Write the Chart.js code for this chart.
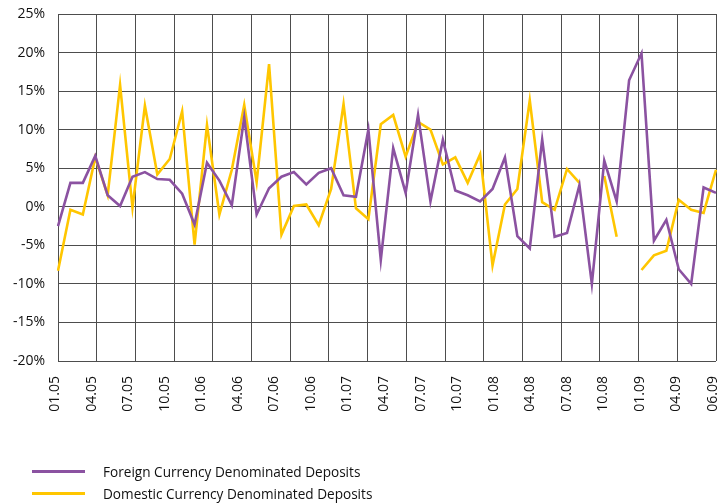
<!DOCTYPE html>
<html lang="en">
  <head>
    <meta charset="UTF-8">
    <title>Deposits growth</title>
    <script src="https://cdn.jsdelivr.net/npm/chart.js"></script>
    <style>
      body { margin: 0; background: #fff; font-family: 'Open Sans', sans-serif; }
      #wrap { position: relative; width: 718px; height: 503px; }
      #legenda { position: absolute; left: 32px; top: 461px; font-size: 13.6px; color: #111; }
      .item { display: flex; align-items: center; height: 21.5px; }
      .linha { width: 53px; height: 3px; margin-right: 18px; }
    </style>
  </head>

  <body>
    <div id="wrap">
      <canvas id="grafico" width="718" height="503"></canvas>
      <div id="legenda"></div>
    </div>

    <script>
      // month categories (one per data point)
      const months = [
        '01.05','02.05','03.05','04.05','05.05','06.05','07.05','08.05','09.05','10.05','11.05','12.05',
        '01.06','02.06','03.06','04.06','05.06','06.06','07.06','08.06','09.06','10.06','11.06','12.06',
        '01.07','02.07','03.07','04.07','05.07','06.07','07.07','08.07','09.07','10.07','11.07','12.07',
        '01.08','02.08','03.08','04.08','05.08','06.08','07.08','08.08','09.08','10.08','11.08','12.08',
        '01.09','02.09','03.09','04.09','05.09','06.09'
      ]

      // labels shown under the axis
      const tickLabels = ['01.05','04.05','07.05','10.05','01.06','04.06','07.06','10.06','01.07',
        '04.07','07.07','10.07','01.08','04.08','07.08','10.08','01.09','04.09','06.09']

      const foreign = [
        -2.5, 3.1, 3.1, 6.6, 1.5, 0.1, 3.9, 4.5, 3.6, 3.5, 1.7, -2.3,
        5.7, 3.4, 0.2, 11.6, -1.0, 2.4, 3.9, 4.5, 2.9, 4.4, 5.0, 1.5,
        1.3, 10.0, -6.9, 7.6, 1.8, 11.9, 0.7, 8.7, 2.1, 1.5, 0.7, 2.3,
        6.4, -3.8, -5.4, 8.7, -3.9, -3.4, 2.8, -10.0, 6.0, 0.7, 16.4, 19.9,
        -4.4, -1.7, -8.1, -10.0, 2.5, 1.8
      ]

      const domestic = [
        -8.3, -0.4, -1.0, 6.4, 1.5, 15.8, -0.1, 13.1, 4.2, 6.2, 12.4, -4.9,
        10.6, -1.0, 4.8, 13.2, 3.2, 18.5, -3.6, 0.1, 0.3, -2.4, 2.3, 13.3,
        -0.2, -1.6, 10.7, 11.9, 6.5, 11.0, 10.0, 5.5, 6.4, 3.1, 6.8, -7.6,
        0.3, 2.3, 13.8, 0.6, -0.4, 4.9, 3.1, null, 4.0, -3.9, null, -8.2,
        -6.3, -5.7, 0.9, -0.4, -0.8, 4.8
      ]

      const yMin = -20, yMax = 25, yStep = 5

      const fonte = { family: "'Open Sans', sans-serif", size: 14 }
      const corGrade = '#4d4d4d'

      const ctx = document.getElementById('grafico')

      const grafico = new Chart(ctx, {
        type: 'line',
        data: {
          labels: months,
          datasets: [
            {
              label: 'Foreign Currency Denominated Deposits',
              data: foreign,
              borderColor: '#8b52a1',
              borderWidth: 2.6,
              pointRadius: 0,
              tension: 0
            },
            {
              label: 'Domestic Currency Denominated Deposits',
              data: domestic,
              borderColor: '#ffc600',
              borderWidth: 2.6,
              pointRadius: 0,
              tension: 0,
              spanGaps: false
            }
          ]
        },
        options: {
          responsive: false,
          animation: false,
          layout: { padding: { top: 14, right: 2, left: 0, bottom: 0 } },
          plugins: {
            legend: { display: false },
            tooltip: { enabled: false }
          },
          scales: {
            x: { type: 'category', display: false, offset: false },
            xl: {
              type: 'category',
              labels: tickLabels,
              position: 'bottom',
              offset: false,
              grid: { display: false, drawTicks: false },
              border: { display: false },
              ticks: { autoSkip: false, minRotation: 90, maxRotation: 90, padding: 15, labelOffset: -3, color: '#111', font: fonte },
              afterFit: s => { s.height = 142; s.paddingLeft = 0; s.paddingRight = 0 }
            },
            xg: {
              type: 'linear',
              position: 'top',
              min: 0,
              max: 17,
              ticks: { display: false, stepSize: 1 },
              grid: { color: corGrade, lineWidth: 1, drawTicks: false },
              border: { display: false }
            },
            y: {
              min: yMin,
              max: yMax,
              ticks: { stepSize: yStep, padding: 13, color: '#111', font: fonte, callback: v => v + '%' },
              grid: { color: corGrade, lineWidth: 1, drawTicks: false },
              border: { display: false },
              afterFit: s => { s.width = 58; s.paddingTop = 0; s.paddingBottom = 0 }
            }
          }
        }
      })

      // legend stacked like the original
      const legenda = document.getElementById('legenda')
      grafico.data.datasets.forEach(ds => {
        const item = document.createElement('div')
        item.className = 'item'
        const linha = document.createElement('span')
        linha.className = 'linha'
        linha.style.background = ds.borderColor
        const txt = document.createElement('span')
        txt.textContent = ds.label
        item.appendChild(linha)
        item.appendChild(txt)
        legenda.appendChild(item)
      })
    </script>
  </body>
</html>
